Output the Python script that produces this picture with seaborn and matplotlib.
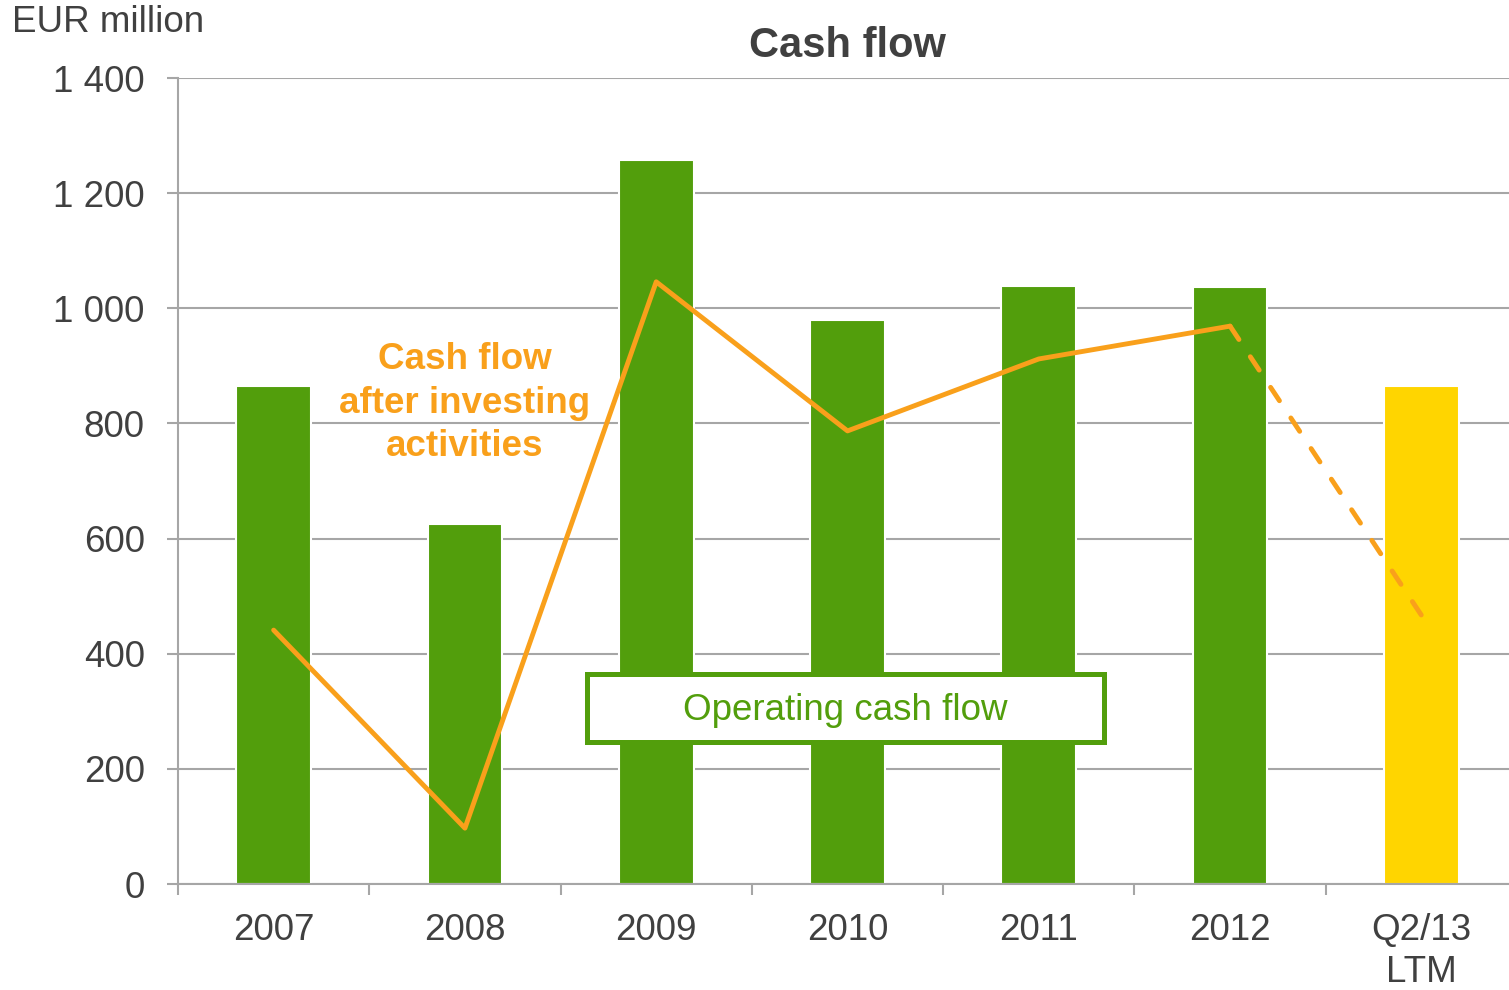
import numpy as np
import pandas as pd
import matplotlib.pyplot as plt
import matplotlib.patches as mpatches
import seaborn as sns

# Daten (EUR million)
categories = ["2007", "2008", "2009", "2010", "2011", "2012", "Q2/13\nLTM"]
operating_cf = [865, 625, 1258, 980, 1039, 1037, 865]
cf_after_investing = [441, 97, 1046, 787, 912, 969, 467]
bar_colors = ["#529E0C"] * 6 + ["#FFD500"]

GREEN = "#529E0C"
ORANGE = "#F9A01B"
TEXT = "#404040"
GRID = "#A6A6A6"

sns.set_style("white")
plt.rcParams["font.family"] = ["Liberation Sans", "DejaVu Sans"]

df = pd.DataFrame({"period": categories, "operating": operating_cf, "after_inv": cf_after_investing})
df["pos"] = np.arange(len(df))

fig = plt.figure(figsize=(15.09, 9.9), dpi=100)
ax = fig.add_axes([178 / 1509, 1 - 884 / 990, (1517 - 178) / 1509, (884 - 78) / 990])

sns.barplot(data=df, x="period", y="operating", hue="period", palette=bar_colors, saturation=1,
            width=0.39, legend=False, ax=ax, edgecolor="white", linewidth=1.5, zorder=2)

# Linie: durchgezogen bis 2012, gestrichelt bis Q2/13 LTM
solid = df.iloc[:6]
dashed = df.iloc[5:]
sns.lineplot(data=solid, x="pos", y="after_inv", color=ORANGE, linewidth=3.5, ax=ax, zorder=3)
sns.lineplot(data=dashed, x="pos", y="after_inv", color=ORANGE, linewidth=3.5, ax=ax, zorder=3)
ax.lines[-1].set_linestyle((0, (3.3, 4.25)))
ax.lines[-1].set_dash_capstyle("round")

ax.set_xlim(-0.5, len(categories) - 0.5)
ax.set_ylim(0, 1400)
ax.set_yticks(range(0, 1401, 200))
ax.set_yticklabels([f"{v:,}".replace(",", " ") for v in range(0, 1401, 200)])
ax.yaxis.grid(True, color=GRID, linewidth=1.5, zorder=0)
ax.set_axisbelow(True)

# Ticks an den Grenzen, Beschriftungen in der Mitte
ax.set_xticks(np.arange(-0.5, len(categories) - 0.5, 1.0))
ax.set_xticklabels([])
ax.set_xticks(df["pos"], minor=True)
ax.set_xticklabels(categories, minor=True, fontsize=26.5, color=TEXT, linespacing=1.27)
ax.tick_params(axis="x", which="major", bottom=True, length=8, width=1.5, color=GRID, direction="out")
ax.tick_params(axis="x", which="minor", bottom=True, length=0, pad=21)
ax.tick_params(axis="y", left=True, length=8, width=1.5, color=GRID, labelsize=26.5,
               labelcolor=TEXT, pad=16, direction="out")

for s in ["top", "right"]:
    ax.spines[s].set_visible(False)
for s in ["left", "bottom"]:
    ax.spines[s].set_color(GRID)
    ax.spines[s].set_linewidth(1.5)

ax.set_xlabel("")
ax.set_ylabel("")
ax.set_title("Cash flow", fontsize=30, fontweight="bold", color=TEXT, pad=15)
fig.text(12 / 1509, 1 - 22 / 990, "EUR million", fontsize=26.5, color=TEXT, va="center", ha="left")

ax.text(1, 835, "Cash flow\nafter investing\nactivities", color=ORANGE, fontsize=26.5,
        fontweight="bold", ha="center", va="center", linespacing=1.32, zorder=4)

# Kasten fuer "Operating cash flow"
ax.add_patch(mpatches.Rectangle((1.64, 247), 2.70, 118, facecolor="white", edgecolor=GREEN,
                                linewidth=3.6, zorder=4))
ax.text(2.99, 302, "Operating cash flow", color=GREEN, fontsize=26.5, ha="center", va="center", zorder=5)

plt.savefig("out.png", dpi=100)
plt.close()
